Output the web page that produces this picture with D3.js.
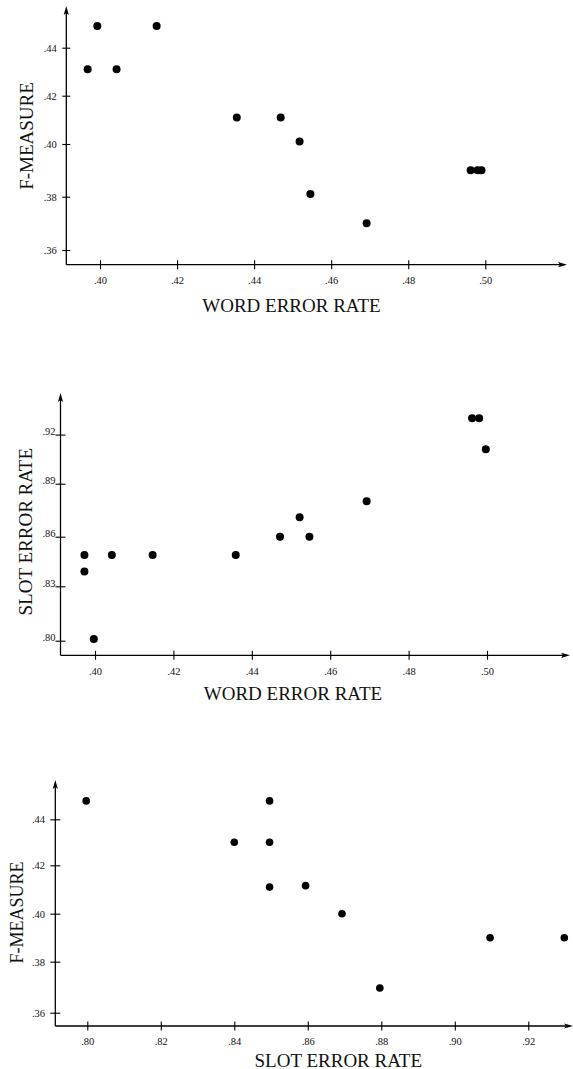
<!DOCTYPE html>
<html>
<head>
<meta charset="utf-8">
<script src="https://cdn.jsdelivr.net/npm/d3@7"></script>
<style>
  body { margin: 0; background: #fff; }
  text { font-family: "Liberation Serif", "Times New Roman", serif; fill: #111; }
</style>
</head>
<body>
<script>
const WIDTH = 573;
const HEIGHT = 1069;

// Panel 1: word error rate vs F-measure
const wer1 = [0.3968, 0.3993, 0.4043, 0.4147, 0.4355, 0.4469, 0.4518, 0.4546, 0.4692, 0.4962, 0.4980, 0.4990];
const fm1 = [0.431, 0.449, 0.431, 0.449, 0.411, 0.411, 0.401, 0.381, 0.370, 0.390, 0.390, 0.390];

// Panel 2: word error rate vs slot error rate
const wer2 = [0.3973, 0.3973, 0.3997, 0.4043, 0.4147, 0.4359, 0.4472, 0.4522, 0.4547, 0.4693, 0.4962, 0.4980, 0.4997];
const ser2 = [0.849, 0.839, 0.801, 0.849, 0.849, 0.849, 0.860, 0.871, 0.860, 0.880, 0.930, 0.930, 0.911];

// Panel 3: slot error rate vs F-measure
const ser3 = [0.7997, 0.8400, 0.8496, 0.8496, 0.8496, 0.8594, 0.8693, 0.8796, 0.9096, 0.9298];
const fm3 = [0.448, 0.430, 0.448, 0.430, 0.411, 0.4116, 0.400, 0.3697, 0.390, 0.390];

// tick values
const werTicks = [0.40, 0.42, 0.44, 0.46, 0.48, 0.50];
const fmTicks = [0.36, 0.38, 0.40, 0.42, 0.44];
const serYTicks = [0.80, 0.83, 0.86, 0.89, 0.92];
const serXTicks = [0.80, 0.82, 0.84, 0.86, 0.88, 0.90, 0.92];

const svg = d3.select("body")
  .append("svg")
  .attr("width", WIDTH)
  .attr("height", HEIGHT);

const fmt = (d) => d3.format(".2f")(d).replace(/^0/, "");

function panel(cfg) {
  const g = svg.append("g");

  // the original figures are scanned, so the y ticks are not evenly spaced
  const x = d3.scaleLinear().domain(cfg.xDomain).range(cfg.xRange);
  const y = d3.scaleLinear().domain(cfg.yTicks).range(cfg.yRange);

  // axis lines with arrow heads
  g.append("line")
    .attr("x1", cfg.ox).attr("y1", cfg.oy)
    .attr("x2", cfg.xEnd - 6).attr("y2", cfg.oy)
    .attr("stroke", "#000").attr("stroke-width", 1.3);
  g.append("path")
    .attr("d", `M${cfg.xEnd},${cfg.oy} L${cfg.xEnd - 9},${cfg.oy - 2.6} L${cfg.xEnd - 7},${cfg.oy} L${cfg.xEnd - 9},${cfg.oy + 2.6} Z`)
    .attr("fill", "#000");
  g.append("line")
    .attr("x1", cfg.ox).attr("y1", cfg.oy)
    .attr("x2", cfg.ox).attr("y2", cfg.yEnd + 6)
    .attr("stroke", "#000").attr("stroke-width", 1.3);
  g.append("path")
    .attr("d", `M${cfg.ox},${cfg.yEnd} L${cfg.ox - 2.6},${cfg.yEnd + 9} L${cfg.ox},${cfg.yEnd + 7} L${cfg.ox + 2.6},${cfg.yEnd + 9} Z`)
    .attr("fill", "#000");

  // x axis ticks
  const gx = g.append("g")
    .attr("transform", `translate(0,${cfg.oy})`)
    .call(d3.axisBottom(x).tickValues(cfg.xTicks).tickFormat(fmt).tickSize(4.5));
  gx.select(".domain").remove();
  gx.selectAll(".tick line").attr("y1", -4.5).attr("y2", 4.5).attr("stroke", "#000").attr("stroke-width", 1.1);
  gx.selectAll(".tick text")
    .attr("y", cfg.xLabelDy).attr("dy", 0)
    .attr("font-size", 10.5)
    .attr("font-family", null)
    .attr("fill", "#222");

  // y axis ticks
  const gy = g.append("g")
    .attr("transform", `translate(${cfg.ox},0)`)
    .call(d3.axisLeft(y).tickValues(cfg.yTicks).tickFormat(fmt).tickSize(4.5));
  gy.select(".domain").remove();
  gy.selectAll(".tick line").attr("x1", -cfg.yTickLen).attr("x2", cfg.yTickLen).attr("stroke", "#000").attr("stroke-width", 1.1);
  gy.selectAll(".tick text")
    .attr("x", -cfg.yLabelDx)
    .attr("dy", cfg.yLabelBaseline ? "0em" : "0.34em")
    .attr("font-size", 10.5)
    .attr("font-family", null)
    .attr("fill", "#222");

  // points
  g.selectAll("circle")
    .data(d3.zip(cfg.xs, cfg.ys))
    .join("circle")
    .attr("cx", (d) => x(d[0]))
    .attr("cy", (d) => y(d[1]))
    .attr("r", cfg.r)
    .attr("fill", "#000");

  // axis titles
  g.append("text")
    .attr("x", cfg.xTitle[0]).attr("y", cfg.xTitle[1])
    .attr("text-anchor", "middle")
    .attr("font-size", 19)
    .text(cfg.xLabel);
  g.append("text")
    .attr("transform", `translate(${cfg.yTitle[0]},${cfg.yTitle[1]}) rotate(-90)`)
    .attr("text-anchor", "middle")
    .attr("font-size", cfg.yTitleSize)
    .text(cfg.yLabel);
}

panel({
  xs: wer1, ys: fm1,
  xDomain: [0.40, 0.50], xRange: [100, 485.3],
  yTicks: fmTicks, yRange: [250, 196.7, 144, 95.7, 47.7],
  xTicks: werTicks,
  ox: 66.3, oy: 264.7, xEnd: 567, yEnd: 6,
  xLabelDy: 19.5, yLabelDx: 9.5, yTickLen: 4, yLabelBaseline: false,
  r: 4,
  xLabel: "WORD ERROR RATE", xTitle: [291.5, 312.3],
  yLabel: "F-MEASURE", yTitle: [33.3, 136], yTitleSize: 19
});

panel({
  xs: wer2, ys: ser2,
  xDomain: [0.40, 0.50], xRange: [95, 487],
  yTicks: serYTicks, yRange: [640.7, 586.3, 536.7, 483.7, 434.6],
  xTicks: werTicks,
  ox: 60.5, oy: 655.3, xEnd: 570, yEnd: 393,
  xLabelDy: 19.7, yLabelDx: 5, yTickLen: 5, yLabelBaseline: true,
  r: 4,
  xLabel: "WORD ERROR RATE", xTitle: [293, 700],
  yLabel: "SLOT ERROR RATE", yTitle: [31.7, 531.7], yTitleSize: 19
});

panel({
  xs: ser3, ys: fm3,
  xDomain: [0.80, 0.92], xRange: [87.3, 528.3],
  yTicks: fmTicks, yRange: [1012.7, 961.7, 913.7, 865.3, 819.3],
  xTicks: serXTicks,
  ox: 55.3, oy: 1026, xEnd: 573, yEnd: 780,
  xLabelDy: 18.5, yLabelDx: 10.3, yTickLen: 5, yLabelBaseline: false,
  r: 3.8,
  xLabel: "SLOT ERROR RATE", xTitle: [338.3, 1066.5],
  yLabel: "F-MEASURE", yTitle: [23.3, 912.5], yTitleSize: 18
});
</script>
</body>
</html>
